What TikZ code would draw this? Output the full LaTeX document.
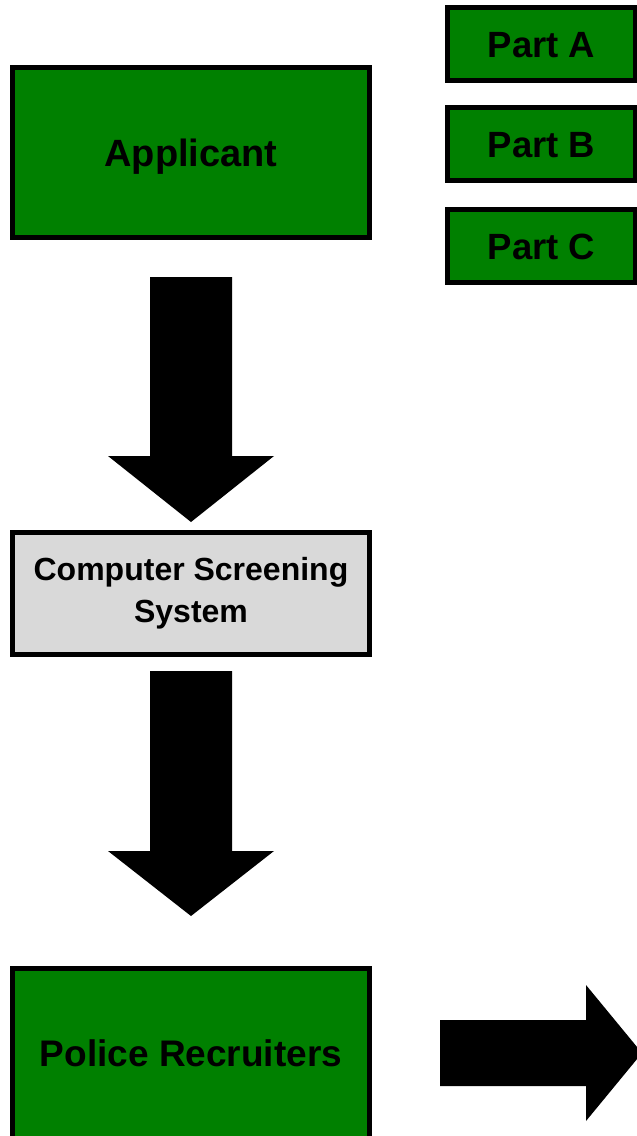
\documentclass[tikz,border=0pt]{standalone}
\usepackage{fontspec}
\setmainfont{Liberation Sans}
\definecolor{boxgreen}{RGB}{0,128,0}
\definecolor{boxgray}{RGB}{217,217,217}
\tikzset{
  box/.style={draw=black, line width=5pt, inner sep=0pt, outer sep=0pt, rectangle, font=\bfseries},
  greenbox/.style={box, fill=boxgreen},
  graybox/.style={box, fill=boxgray},
  blockarrow/.style={fill=black, draw=none}
}
\begin{document}
\begin{tikzpicture}[x=1pt,y=-1pt]
\useasboundingbox (0,0) rectangle (637,1136);
\clip (0,0) rectangle (637,1136);
% Parts
\node[greenbox, minimum width=188pt, minimum height=73pt, text height=26pt, text depth=0pt,
      font=\bfseries\fontsize{36.5}{40}\selectfont] (pa) at (541.5,44) {Part A};
\node[greenbox, minimum width=188pt, minimum height=73pt, text height=26pt, text depth=0pt,
      font=\bfseries\fontsize{36.5}{40}\selectfont] (pb) at (541.5,144) {Part B};
\node[greenbox, minimum width=188pt, minimum height=73pt, text height=26pt, text depth=0pt,
      font=\bfseries\fontsize{36.5}{40}\selectfont] (pc) at (541.5,246) {Part C};
% Main boxes
\node[greenbox, minimum width=357pt, minimum height=170pt, text height=28pt, text depth=0pt,
      font=\bfseries\fontsize{38}{42}\selectfont] (app) at (191,152.5) {Applicant};
\node[graybox, minimum width=357pt, minimum height=122pt, align=center,
      font=\bfseries\fontsize{32}{42}\selectfont] (css) at (191,593.5) {Computer Screening\\System};
\node[greenbox, minimum width=357pt, minimum height=183pt, text height=26.5pt, text depth=14.5pt,
      font=\bfseries\fontsize{37}{42}\selectfont] (pr) at (191,1060) {Police Recruiters};
% Arrow 1: applicant -> screening
\fill[blockarrow] ([xshift=-41pt,yshift=-39.5pt]app.south) -- ([xshift=41pt,yshift=-39.5pt]app.south)
  -- ([xshift=41pt,yshift=76.5pt]css.north) -- ([xshift=83pt,yshift=76.5pt]css.north)
  -- ([yshift=10.5pt]css.north) -- ([xshift=-83pt,yshift=76.5pt]css.north)
  -- ([xshift=-41pt,yshift=76.5pt]css.north) -- cycle;
% Arrow 2: screening -> recruiters
\fill[blockarrow] ([xshift=-41pt,yshift=-16.5pt]css.south) -- ([xshift=41pt,yshift=-16.5pt]css.south)
  -- ([xshift=41pt,yshift=117.5pt]pr.north) -- ([xshift=83pt,yshift=117.5pt]pr.north)
  -- ([yshift=52.5pt]pr.north) -- ([xshift=-83pt,yshift=117.5pt]pr.north)
  -- ([xshift=-41pt,yshift=117.5pt]pr.north) -- cycle;
% Arrow 3: recruiters -> right (continues off the page)
\coordinate (tail) at ([xshift=70.5pt,yshift=7pt]pr.east);
\coordinate (tip) at (642,1053);
\fill[blockarrow] ([yshift=33pt]tail) -- ([xshift=146pt,yshift=33pt]tail)
  -- ([xshift=146pt,yshift=68pt]tail) -- (tip) -- ([xshift=146pt,yshift=-68pt]tail)
  -- ([xshift=146pt,yshift=-33pt]tail) -- ([yshift=-33pt]tail) -- cycle;
\end{tikzpicture}
\end{document}
